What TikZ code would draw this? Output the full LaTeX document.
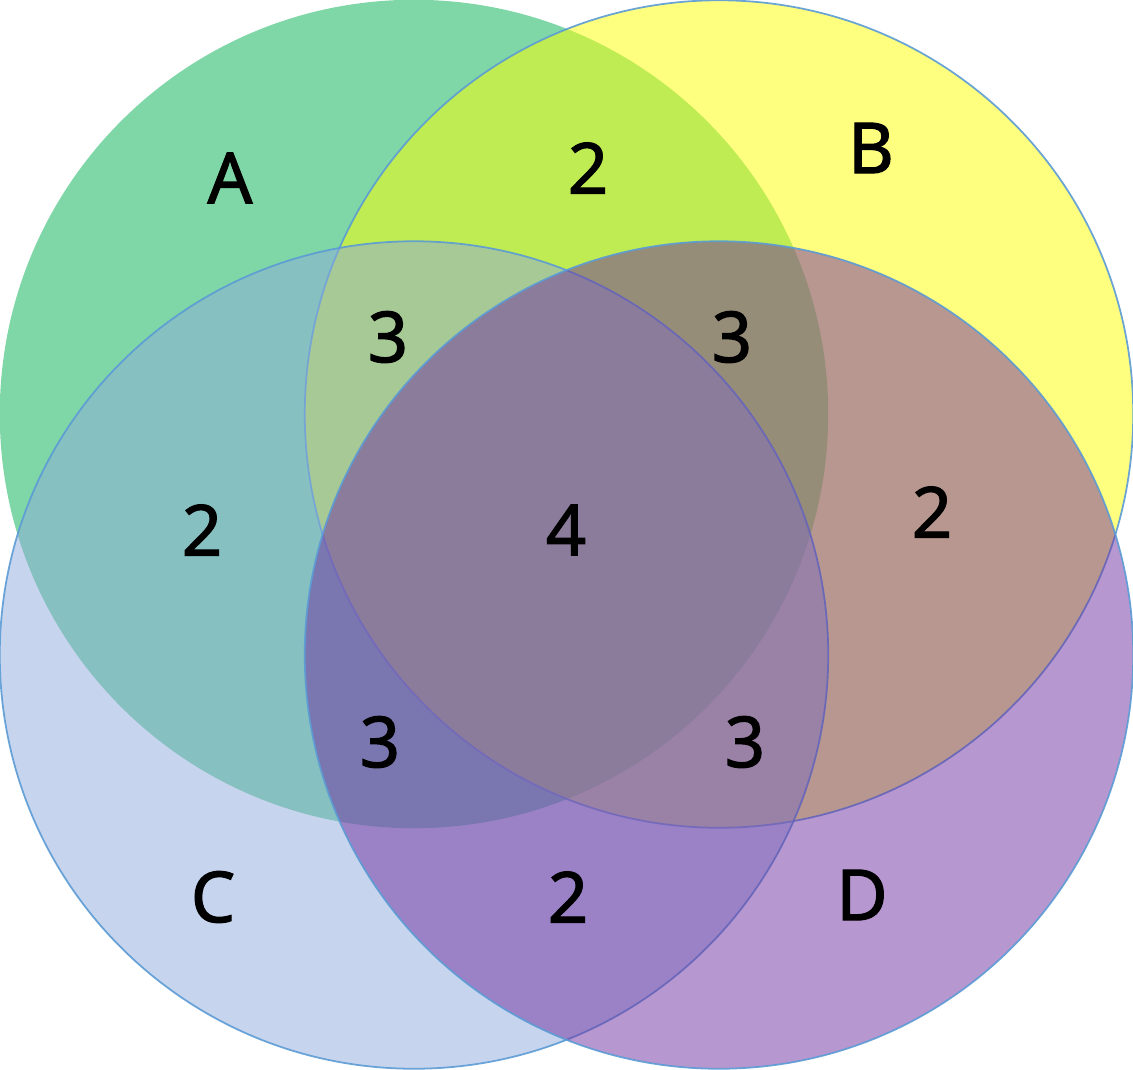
\documentclass[tikz,border=0pt]{standalone}
\usepackage{fontspec}
\setmainfont{Noto Sans}
\newfontfamily\lblfont[FakeBold=1.6]{Noto Sans}
\usepackage{xcolor}
\usepackage{tikz}
\usetikzlibrary{positioning}
\definecolor{setA}{RGB}{0,176,80}
\definecolor{setB}{RGB}{255,255,0}
\definecolor{setC}{RGB}{142,169,219}
\definecolor{setD}{RGB}{112,48,160}
\definecolor{rim}{RGB}{91,155,213}

\begin{document}
\begin{tikzpicture}[
    x=0.01cm, y=-0.01cm,
    set/.style={fill opacity=0.5, draw opacity=0.9, line width=0.5pt},
    lbl/.style={font=\lblfont\fontsize{20}{22}\selectfont, text=black, inner sep=0pt}
]
    \useasboundingbox (0,0) rectangle (1133,1069);

    % The four sets
    \fill[set, setA] (414,414) ellipse [x radius=4.14cm, y radius=4.14cm];
    \filldraw[set, fill=setB, draw=rim] (719,414) ellipse [x radius=4.14cm, y radius=4.135cm];
    \filldraw[set, fill=setC, draw=rim] (414,655) ellipse [x radius=4.14cm, y radius=4.135cm];
    \filldraw[set, fill=setD, draw=rim] (719,655) ellipse [x radius=4.14cm, y radius=4.135cm];

    % Set names
    \node[lbl] (nameA) at (230,178) {A};
    \node[lbl] (nameB) at (871,148) {B};
    \node[lbl] (nameC) at (213,897) {C};
    \node[lbl] (nameD) at (862,895) {D};

    % Region counts
    \node[lbl] (ab)   at (588,168) {2};
    \node[lbl] (abc)  at (388,337) {3};
    \node[lbl] (abd)  at (732,337) {3};
    \node[lbl] (ac)   at (202,530) {2};
    \node[lbl] (abcd) at (566,530) {4};
    \node[lbl] (bd)   at (932,512) {2};
    \node[lbl] (acd)  at (380,742) {3};
    \node[lbl] (bcd)  at (745,742) {3};
    \node[lbl] (cd)   at (568,897) {2};

\end{tikzpicture}
\end{document}
